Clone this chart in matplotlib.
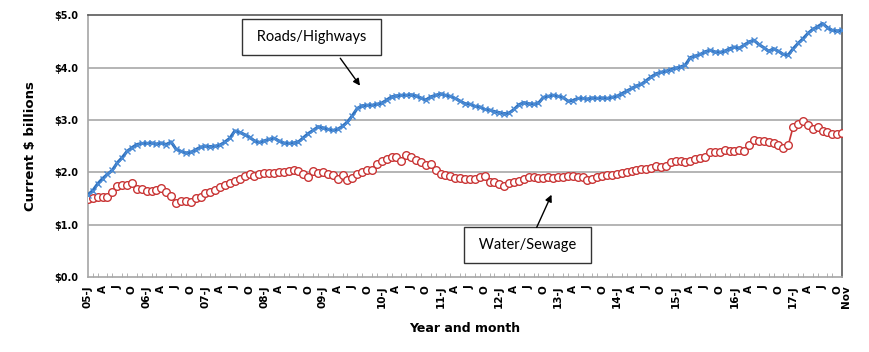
import numpy as np
import matplotlib.pyplot as plt
import matplotlib.transforms as mtransforms

# monthly values, Jan 2005 .. Nov 2017 (current $ billions)
roads = [
    1.57, 1.65, 1.78, 1.88, 1.96, 2.04, 2.18, 2.28, 2.40, 2.47, 2.53, 2.55,  # 2005
    2.55, 2.56, 2.54, 2.56, 2.53, 2.58, 2.44, 2.40, 2.37, 2.38, 2.43, 2.48,  # 2006
    2.50, 2.49, 2.50, 2.52, 2.58, 2.65, 2.79, 2.76, 2.72, 2.67, 2.60, 2.57,  # 2007
    2.60, 2.63, 2.65, 2.60, 2.56, 2.55, 2.56, 2.58, 2.66, 2.74, 2.80, 2.87,  # 2008
    2.85, 2.82, 2.80, 2.82, 2.88, 2.96, 3.08, 3.22, 3.27, 3.28, 3.28, 3.30,  # 2009
    3.32, 3.38, 3.44, 3.46, 3.47, 3.47, 3.48, 3.46, 3.42, 3.38, 3.44, 3.47,  # 2010
    3.50, 3.47, 3.45, 3.41, 3.36, 3.31, 3.30, 3.26, 3.25, 3.20, 3.19, 3.16,  # 2011
    3.14, 3.12, 3.13, 3.20, 3.29, 3.33, 3.31, 3.30, 3.32, 3.43, 3.45, 3.47,  # 2012
    3.45, 3.43, 3.36, 3.37, 3.41, 3.41, 3.40, 3.42, 3.41, 3.42, 3.41, 3.43,  # 2013
    3.45, 3.50, 3.55, 3.60, 3.65, 3.68, 3.75, 3.82, 3.88, 3.91, 3.93, 3.96,  # 2014
    3.99, 4.01, 4.05, 4.19, 4.22, 4.25, 4.30, 4.33, 4.30, 4.29, 4.31, 4.36,  # 2015
    4.39, 4.37, 4.43, 4.49, 4.52, 4.44, 4.38, 4.31, 4.36, 4.31, 4.25, 4.24,  # 2016
    4.36, 4.46, 4.55, 4.65, 4.73, 4.78, 4.84, 4.76, 4.71, 4.70, 4.71,        # 2017
]

water = [
    1.49, 1.51, 1.52, 1.53, 1.53, 1.63, 1.74, 1.75, 1.76, 1.80, 1.69, 1.68,  # 2005
    1.65, 1.65, 1.66, 1.70, 1.63, 1.55, 1.42, 1.45, 1.45, 1.43, 1.50, 1.53,  # 2006
    1.60, 1.63, 1.66, 1.71, 1.76, 1.79, 1.84, 1.88, 1.93, 1.97, 1.92, 1.96,  # 2007
    1.98, 1.99, 1.99, 2.00, 2.01, 2.03, 2.04, 2.02, 1.96, 1.91, 2.02, 1.98,  # 2008
    2.00, 1.96, 1.95, 1.87, 1.95, 1.85, 1.90, 1.96, 2.01, 2.05, 2.05, 2.15,  # 2009
    2.21, 2.26, 2.30, 2.30, 2.21, 2.33, 2.30, 2.23, 2.19, 2.14, 2.15, 2.04,  # 2010
    1.96, 1.95, 1.93, 1.90, 1.89, 1.87, 1.88, 1.88, 1.91, 1.92, 1.82, 1.81,  # 2011
    1.78, 1.74, 1.79, 1.82, 1.83, 1.88, 1.91, 1.91, 1.90, 1.90, 1.91, 1.90,  # 2012
    1.91, 1.91, 1.92, 1.93, 1.91, 1.91, 1.86, 1.87, 1.91, 1.92, 1.95, 1.95,  # 2013
    1.96, 1.98, 2.01, 2.02, 2.05, 2.07, 2.07, 2.09, 2.12, 2.10, 2.12, 2.19,  # 2014
    2.21, 2.21, 2.20, 2.21, 2.25, 2.28, 2.30, 2.38, 2.38, 2.39, 2.42, 2.40,  # 2015
    2.41, 2.42, 2.41, 2.52, 2.61, 2.59, 2.59, 2.58, 2.56, 2.53, 2.47, 2.52,  # 2016
    2.87, 2.93, 2.98, 2.90, 2.82, 2.86, 2.79, 2.76, 2.74, 2.74, 2.75,        # 2017
]

years = ['05', '06', '07', '08', '09', '10', '11', '12', '13', '14', '15', '16', '17']
quarter_letters = ['J', 'A', 'J', 'O']
y_ticks = [0, 1, 2, 3, 4, 5]

plt.rcParams['font.family'] = ['Lato', 'DejaVu Sans']
axis_font = ['DejaVu Sans']

n = len(roads)
x = np.arange(n)

fig = plt.figure(figsize=(8.7, 3.52), dpi=100)
ax = fig.add_axes([0.101, 0.213, 0.867, 0.744])

# horizontal grid
for v in y_ticks[1:-1]:
    ax.axhline(v, color='#b4b4b4', lw=1.4, zorder=1)

ax.plot(x, water, color='#c93535', lw=1.2, marker='o', markersize=5.5,
        markerfacecolor='white', markeredgecolor='#c93535', markeredgewidth=1.0, zorder=3)
ax.plot(x, roads, color='#2e70bd', lw=2.2, marker='x', markersize=5,
        markeredgecolor='#4a8ad4', markeredgewidth=1.0, zorder=4)

ax.set_xlim(0, n - 1)
ax.set_ylim(0, 5)

# tick labels every quarter, plus the last month
pos = []
labels = []
for i, yr in enumerate(years):
    for q, letter in enumerate(quarter_letters):
        m = i * 12 + q * 3
        if m >= n:
            continue
        pos.append(m)
        labels.append(yr + '-J' if q == 0 else letter)
pos.append(n - 1)
labels.append('Nov')
ax.set_xticks(pos)
ax.set_xticklabels(labels, rotation=90, fontsize=7.5, fontweight='bold', family=axis_font)
ax.set_xticks(x, minor=True)
ax.tick_params(axis='x', which='both', direction='in', length=3, color='#a6a6a6')
ax.tick_params(axis='x', which='major', length=0, pad=6)

# nudge "Nov" a little to the right so it does not sit on the last "O"
nov = ax.get_xticklabels()[-1]
nov.set_transform(nov.get_transform() + mtransforms.ScaledTranslation(4 / 100, 0, fig.dpi_scale_trans))

ax.set_yticks(y_ticks)
ax.set_yticklabels(['${:.1f}'.format(v) for v in y_ticks], fontsize=7, fontweight='bold', family=axis_font)
ax.tick_params(axis='y', length=0, pad=7)

ax.set_ylabel('Current $ billions', fontsize=9.5, fontweight='bold', family=axis_font, labelpad=12)
ax.set_xlabel('Year and month', fontsize=9, fontweight='bold', family=axis_font, labelpad=10)

for side in ['left', 'bottom']:
    ax.spines[side].set_color('#a6a6a6')
    ax.spines[side].set_linewidth(1.2)
for side in ['top', 'right']:
    ax.spines[side].set_color('#595959')
    ax.spines[side].set_linewidth(1.2)

box = dict(boxstyle='square,pad=0.75', fc='white', ec='#333333', lw=1.0)
ax.text(45.6, 4.58, ' Roads/Highways ', fontsize=10.5, ha='center', va='center', bbox=box, zorder=6)
ax.annotate('', xy=(55.9, 3.61), xytext=(51.2, 4.22),
            arrowprops=dict(arrowstyle='-|>', color='black', lw=1.0, mutation_scale=10), zorder=6)
ax.text(89.8, 0.61, ' Water/Sewage ', fontsize=10.5, ha='center', va='center', bbox=box, zorder=6)
ax.annotate('', xy=(94.9, 1.62), xytext=(91.4, 0.90),
            arrowprops=dict(arrowstyle='-|>', color='black', lw=1.0, mutation_scale=10), zorder=6)

plt.savefig('out.png', dpi=100)
